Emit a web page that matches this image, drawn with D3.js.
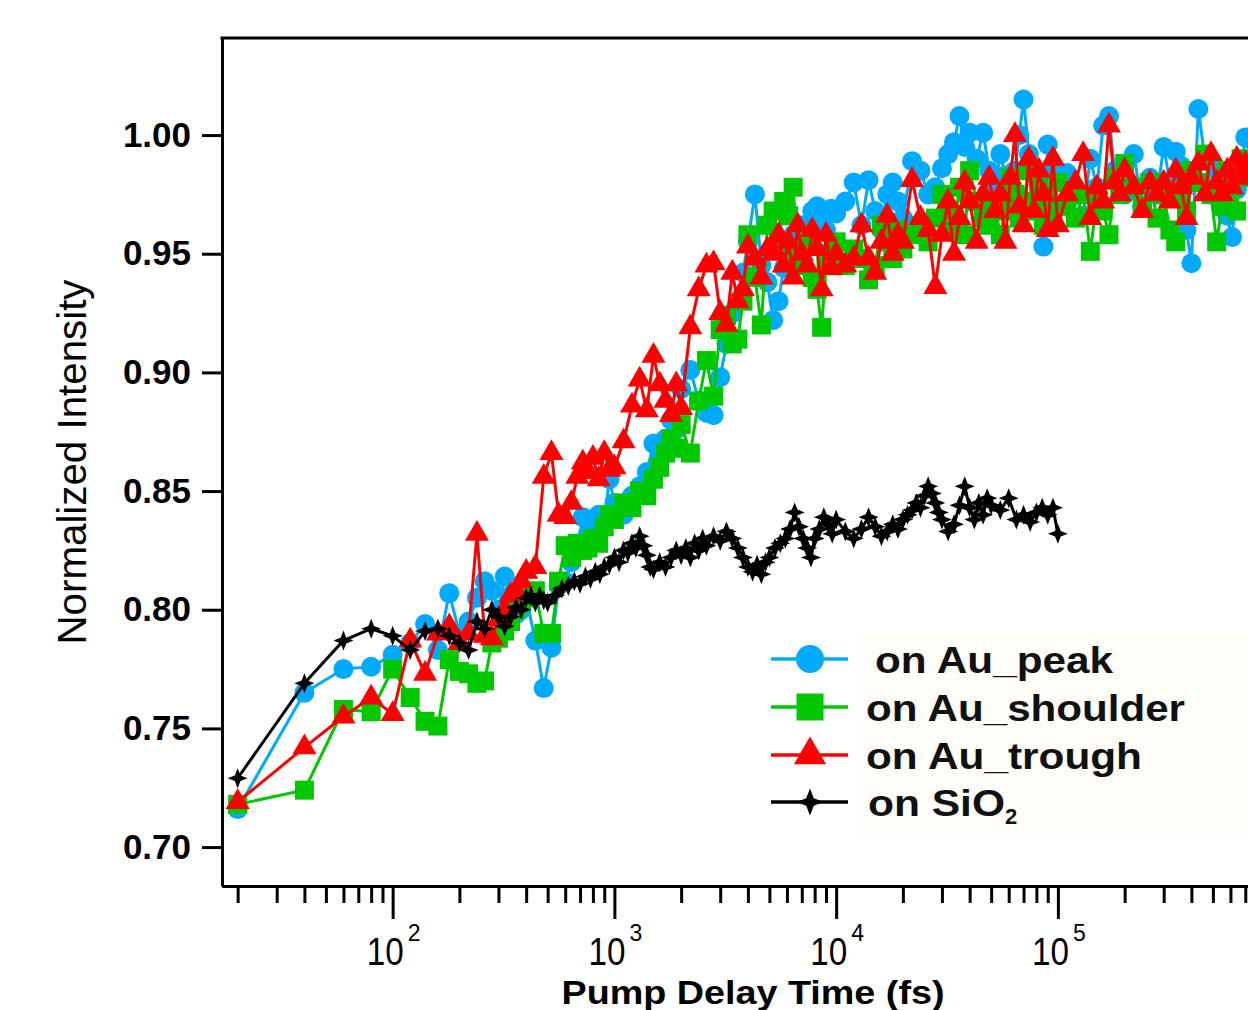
<!DOCTYPE html>
<html lang="en">
<head>
<meta charset="UTF-8">
<title>Normalized Intensity vs Pump Delay Time</title>
<style>
    body { margin: 0; background: #fff; }
    svg { display: block; }
    .axis path, .axis line { stroke: #000; stroke-width: 3px; }
    .axis text { fill: #000; font-family: "Liberation Sans", Arial, sans-serif; font-weight: bold; font-size: 35px; }
    .trace { fill: none; stroke-width: 3px; stroke-linejoin: round; }
    .narrow { font-family: "Liberation Sans Narrow", "Liberation Sans", Arial, sans-serif; }
    .legend text { font-family: "Liberation Sans", Arial, sans-serif; font-weight: bold; font-size: 37px; fill: #111; }
</style>
</head>
<body>
<div id="chart"></div>
<script src="https://cdn.jsdelivr.net/npm/d3@7"></script>
<script>
// shared delay grid of the three Au scans (fs)
var auTimes = [
    20, 40, 60, 80, 100, 120, 140, 160, 180, 200,
    220, 240, 260, 280, 300, 320, 340, 360, 380, 400,
    440, 480, 520, 560, 600, 640, 680, 720, 760, 800,
    850, 900, 950, 1000, 1100, 1200, 1300, 1400, 1500, 1600,
    1700, 1800, 1900, 2000, 2200, 2400, 2600, 2800, 3000, 3200,
    3400, 3600, 3800, 4000, 4300, 4600, 4900, 5200, 5500, 5800,
    6100, 6400, 6700, 7000, 7400, 7800, 8200, 8600, 9000, 9500,
    10000, 11000, 12000, 13000, 14000, 15000, 16000, 17000, 18000, 19000,
    20000, 22000, 24000, 26000, 28000, 30000, 32000, 34000, 36000, 38000,
    40000, 43000, 46000, 49000, 52000, 55000, 58000, 61000, 64000, 67000,
    70000, 74000, 78000, 82000, 86000, 90000, 95000, 100000, 110000, 120000,
    130000, 140000, 150000, 160000, 170000, 180000, 190000, 200000, 220000, 240000,
    260000, 280000, 300000, 320000, 340000, 360000, 380000, 400000, 430000, 460000,
    490000, 520000, 550000, 580000, 610000, 640000, 670000, 700000, 750000
];

var peakValues = [
    0.716, 0.765, 0.775, 0.776, 0.781, 0.786, 0.794, 0.783, 0.807, 0.790,
    0.795, 0.805, 0.812, 0.808, 0.800, 0.814, 0.806, 0.798, 0.800, 0.805,
    0.787, 0.767, 0.784, 0.810, 0.812, 0.820, 0.825, 0.839, 0.832, 0.836,
    0.840, 0.838, 0.855, 0.845, 0.840, 0.848, 0.852, 0.858, 0.870, 0.866,
    0.872, 0.880, 0.876, 0.893, 0.901, 0.888, 0.883, 0.882, 0.898, 0.912,
    0.925, 0.930, 0.942, 0.955, 0.975, 0.945, 0.938, 0.922, 0.930, 0.944,
    0.952, 0.958, 0.948, 0.962, 0.955, 0.968, 0.970, 0.965, 0.960, 0.969,
    0.967, 0.972, 0.980, 0.962, 0.981, 0.968, 0.960, 0.975, 0.980, 0.972,
    0.965, 0.989, 0.985, 0.975, 0.978, 0.986, 0.992, 0.997, 1.008, 0.995,
    1.001, 0.990, 1.001, 0.985, 0.978, 0.992, 0.983, 0.975, 0.985, 1.000,
    1.015, 0.992, 0.985, 0.980, 0.953, 0.996, 0.985, 0.970, 0.984, 0.975,
    0.966, 0.990, 0.978, 1.004, 1.008, 0.985, 0.978, 0.975, 0.992, 0.970,
    0.982, 0.975, 0.995, 0.980, 0.993, 0.987, 0.960, 0.946, 1.011, 0.990,
    0.975, 0.985, 0.970, 0.966, 0.957, 0.977, 0.985, 0.999, 0.998
];

var shoulderValues = [
    0.718, 0.724, 0.758, 0.757, 0.775, 0.763, 0.753, 0.751, 0.779, 0.774,
    0.773, 0.769, 0.770, 0.786, 0.788, 0.791, 0.795, 0.800, 0.803, 0.805,
    0.808, 0.790, 0.790, 0.812, 0.827, 0.822, 0.828, 0.825, 0.826, 0.830,
    0.828, 0.835, 0.840, 0.838, 0.845, 0.843, 0.850, 0.848, 0.855, 0.860,
    0.866, 0.872, 0.868, 0.878, 0.866, 0.888, 0.905, 0.890, 0.918, 0.924,
    0.912, 0.914, 0.930, 0.958, 0.940, 0.920, 0.962, 0.968, 0.955, 0.972,
    0.966, 0.978, 0.950, 0.945, 0.955, 0.940, 0.935, 0.919, 0.945, 0.950,
    0.955, 0.945, 0.952, 0.948, 0.939, 0.945, 0.962, 0.955, 0.948, 0.960,
    0.952, 0.958, 0.962, 0.955, 0.965, 0.975, 0.968, 0.960, 0.978, 0.958,
    0.985, 0.972, 0.965, 0.962, 0.970, 0.958, 0.968, 0.982, 0.975, 0.965,
    0.972, 0.985, 0.968, 0.978, 0.962, 0.975, 0.968, 0.980, 0.970, 0.965,
    0.975, 0.951, 0.972, 0.968, 0.958, 0.982, 0.975, 0.988, 0.978, 0.970,
    0.980, 0.965, 0.975, 0.960, 0.955, 0.975, 0.968, 0.985, 0.980, 0.992,
    0.975, 0.955, 0.970, 0.985, 0.978, 0.968, 0.990, 0.985, 0.982
];

var troughValues = [
    0.719, 0.742, 0.755, 0.763, 0.756, 0.787, 0.773, 0.790, 0.793, 0.786,
    0.790, 0.832, 0.789, 0.788, 0.796, 0.800, 0.806, 0.808, 0.812, 0.816,
    0.818, 0.856, 0.866, 0.840, 0.839, 0.845, 0.856, 0.862, 0.858, 0.864,
    0.855, 0.866, 0.859, 0.860, 0.871, 0.886, 0.897, 0.884, 0.907, 0.895,
    0.888, 0.882, 0.895, 0.885, 0.919, 0.935, 0.945, 0.946, 0.925, 0.920,
    0.942, 0.930, 0.935, 0.953, 0.948, 0.940, 0.952, 0.950, 0.958, 0.945,
    0.955, 0.940, 0.962, 0.950, 0.945, 0.960, 0.952, 0.935, 0.958, 0.944,
    0.950, 0.945, 0.948, 0.962, 0.948, 0.942, 0.955, 0.966, 0.950, 0.958,
    0.955, 0.981, 0.965, 0.960, 0.936, 0.958, 0.972, 0.950, 0.965, 0.980,
    0.972, 0.955, 0.975, 0.982, 0.968, 0.975, 0.955, 0.982, 1.000, 0.970,
    0.962, 0.990, 0.968, 0.985, 0.975, 0.960, 0.990, 0.962, 0.975, 0.980,
    0.992, 0.965, 0.978, 0.972, 1.004, 0.980, 0.975, 0.985, 0.978, 0.968,
    0.980, 0.975, 0.980, 0.972, 0.985, 0.978, 0.965, 0.982, 0.988, 0.975,
    0.992, 0.980, 0.975, 0.985, 0.978, 0.990, 0.982, 0.988, 0.985
];

// SiO2 reference scan, stops at 1e5 fs
var sio2Times = [
    20, 40, 60, 80, 100, 120, 140, 160, 180, 200,
    220, 240, 260, 280, 300, 320, 340, 360, 380, 400,
    420, 440, 460, 480, 500, 540, 580, 620, 660, 700,
    740, 780, 820, 860, 900, 950, 1000, 1050, 1100, 1150,
    1200, 1250, 1300, 1350, 1400, 1450, 1500, 1600, 1700, 1800,
    1900, 2000, 2100, 2200, 2300, 2400, 2500, 2600, 2800, 3000,
    3200, 3400, 3600, 3800, 4000, 4200, 4400, 4600, 4800, 5000,
    5300, 5600, 5900, 6200, 6500, 6800, 7100, 7400, 7700, 8000,
    8400, 8800, 9200, 9600, 10000, 11000, 12000, 13000, 14000, 15000,
    16000, 17000, 18000, 19000, 20000, 21000, 22000, 23000, 24000, 25000,
    26000, 27000, 28000, 29000, 30000, 32000, 34000, 36000, 38000, 40000,
    42000, 44000, 46000, 48000, 50000, 55000, 60000, 65000, 70000, 75000,
    80000, 85000, 90000, 95000, 100000
];

var sio2Values = [
    0.729, 0.769, 0.787, 0.792, 0.789, 0.783, 0.791, 0.792, 0.789, 0.786,
    0.783, 0.795, 0.792, 0.800, 0.797, 0.793, 0.797, 0.801, 0.800, 0.805,
    0.806, 0.803, 0.806, 0.804, 0.803, 0.806, 0.809, 0.810, 0.812, 0.811,
    0.814, 0.813, 0.816, 0.815, 0.818, 0.819, 0.822, 0.820, 0.825, 0.824,
    0.828, 0.826, 0.831, 0.827, 0.823, 0.818, 0.817, 0.820, 0.818, 0.822,
    0.825, 0.823, 0.826, 0.822, 0.828, 0.825, 0.830, 0.827, 0.831, 0.829,
    0.833, 0.830, 0.826, 0.822, 0.818, 0.816, 0.819, 0.815, 0.820, 0.822,
    0.826, 0.828, 0.830, 0.834, 0.841, 0.835, 0.830, 0.826, 0.822, 0.830,
    0.834, 0.839, 0.836, 0.832, 0.838, 0.833, 0.830, 0.834, 0.839, 0.835,
    0.831, 0.833, 0.836, 0.834, 0.838, 0.840, 0.842, 0.845, 0.843, 0.848,
    0.852, 0.849, 0.845, 0.841, 0.838, 0.833, 0.836, 0.844, 0.852, 0.843,
    0.838, 0.845, 0.840, 0.847, 0.844, 0.842, 0.847, 0.838, 0.840, 0.837,
    0.841, 0.843, 0.840, 0.843, 0.832
];

var legendLabels = [" on Au_peak", "on Au_shoulder", "on Au_trough", "on SiO"];
var yTicks = [0.70, 0.75, 0.80, 0.85, 0.90, 0.95, 1.00];
var xMajorTicks = [100, 1000, 10000, 100000];
var xTickExponents = ["2", "3", "4", "5"];

var width = 1248, height = 1010;

var x = d3.scaleLog().domain([17, 720000]).range([222, 1248]),
    y = d3.scaleLinear().domain([0.6836, 1.0409]).range([886, 38]);

// marker shapes, s = overall width in px
function star4(s) {
    var ro = s / 2, ri = s * 0.2, pts = [];
    for (var i = 0; i < 8; i++) {
        var a = -Math.PI / 2 + i * Math.PI / 4, r = i % 2 ? ri : ro;
        pts.push([r * Math.cos(a), r * Math.sin(a)]);
    }
    return "M" + pts.join("L") + "Z";
}
var shapes = {
    circle: function (s) { return d3.symbol(d3.symbolCircle, Math.PI * s * s / 4)(); },
    square: function (s) { return d3.symbol(d3.symbolSquare, s * s)(); },
    triangle: function (s) { return d3.symbol(d3.symbolTriangle, Math.sqrt(3) / 4 * s * s)(); },
    star: star4
};

var series = [
    {name: legendLabels[0], color: "#00aaff", shape: "circle", size: 20, legendSize: 28,
        data: auTimes.map(function (t, i) { return [t, peakValues[i]]; })},
    {name: legendLabels[1], color: "#00c800", shape: "square", size: 19, legendSize: 27,
        data: auTimes.map(function (t, i) { return [t, shoulderValues[i]]; })},
    {name: legendLabels[2], color: "#ff0000", shape: "triangle", size: 24, legendSize: 32,
        data: auTimes.map(function (t, i) { return [t, troughValues[i]]; })},
    {name: legendLabels[3], color: "#000000", shape: "star", size: 20, legendSize: 27,
        data: sio2Times.map(function (t, i) { return [t, sio2Values[i]]; })}
];

var svg = d3.select("#chart").append("svg")
    .attr("width", width)
    .attr("height", height);

// data traces
var line = d3.line()
    .x(function (d) { return x(d[0]); })
    .y(function (d) { return y(d[1]); });

var g = svg.selectAll(".series")
    .data(series)
    .enter().append("g")
    .attr("class", "series");

g.append("path")
    .attr("class", "trace")
    .attr("stroke", function (d) { return d.color; })
    .attr("d", function (d) { return line(d.data); });

g.each(function (s) {
    d3.select(this).selectAll(".pt")
        .data(s.data)
        .enter().append("path")
        .attr("class", "pt")
        .attr("fill", s.color)
        .attr("transform", function (d) { return "translate(" + x(d[0]) + "," + y(d[1]) + ")"; })
        .attr("d", shapes[s.shape](s.size));
});

// axes
var minorTicks = x.ticks().filter(function (t) {
    return xMajorTicks.indexOf(t) < 0 && t >= x.domain()[0] && t <= x.domain()[1];
});

svg.append("g")
    .attr("class", "axis")
    .attr("transform", "translate(0," + y.range()[0] + ")")
    .call(d3.axisBottom(x).tickValues(minorTicks).tickSize(17).tickSizeOuter(0).tickFormat(""));

svg.append("g")
    .attr("class", "axis")
    .attr("transform", "translate(0," + y.range()[0] + ")")
    .call(d3.axisBottom(x).tickValues(xMajorTicks).tickSize(33).tickSizeOuter(0).tickFormat(""));

svg.append("g")
    .attr("class", "axis")
    .attr("transform", "translate(" + x.range()[0] + ",0)")
    .call(d3.axisLeft(y).tickValues(yTicks).tickSize(20).tickPadding(11)
        .tickSizeOuter(0).tickFormat(d3.format(".2f")));

svg.append("line")
    .attr("x1", x.range()[0] - 1.5).attr("x2", width)
    .attr("y1", y.range()[1]).attr("y2", y.range()[1])
    .attr("stroke", "#000").attr("stroke-width", 3);

// decade labels 10^n : mantissa and exponent as separate texts
var xl = svg.selectAll(".xlab")
    .data(xMajorTicks)
    .enter().append("g")
    .attr("class", "xlab narrow")
    .attr("transform", function (d) { return "translate(" + x(d) + ",0)"; });
xl.append("text")
    .attr("x", -26).attr("y", 965)
    .attr("textLength", 37).attr("lengthAdjust", "spacingAndGlyphs")
    .style("font-size", "38px")
    .text("10");
xl.append("text")
    .attr("x", 15).attr("y", 941)
    .style("font-size", "23px")
    .text(function (d, i) { return xTickExponents[i]; });

// axis titles
svg.append("text")
    .attr("class", "narrow")
    .attr("x", 753).attr("y", 1004)
    .attr("text-anchor", "middle")
    .attr("textLength", 383).attr("lengthAdjust", "spacingAndGlyphs")
    .style("font-size", "34px").style("font-weight", "bold")
    .text("Pump Delay Time (fs)");

svg.append("text")
    .attr("class", "narrow")
    .attr("transform", "translate(86,462) rotate(-90)")
    .attr("text-anchor", "middle")
    .attr("textLength", 365).attr("lengthAdjust", "spacingAndGlyphs")
    .style("font-size", "40px")
    .text("Normalized Intensity");

// legend
var legend = svg.append("g").attr("class", "legend");
legend.append("rect")
    .attr("x", 860).attr("y", 632)
    .attr("width", 400).attr("height", 203)
    .attr("fill", "#fefdf8");

var rowY = [659, 707, 755, 802],
    textX = [875, 866, 866, 868],
    textW = [238, 319, 276, 137];

var item = legend.selectAll(".item")
    .data(series)
    .enter().append("g")
    .attr("class", "item")
    .attr("transform", function (d, i) { return "translate(0," + rowY[i] + ")"; });

item.append("line")
    .attr("x1", 771).attr("x2", 848)
    .attr("stroke", function (d) { return d.color; })
    .attr("stroke-width", 3.5);

item.append("path")
    .attr("transform", "translate(810,0)")
    .attr("fill", function (d) { return d.color; })
    .attr("d", function (d) { return shapes[d.shape](d.legendSize); });

item.append("text")
    .attr("x", function (d, i) { return textX[i]; })
    .attr("y", 14)
    .each(function (d, i) {
        var t = d3.select(this);
        t.append("tspan")
            .attr("textLength", textW[i]).attr("lengthAdjust", "spacingAndGlyphs")
            .text(d.name.trim());
        if (i === 3) {
            t.append("tspan").attr("dy", 8).style("font-size", "22px").text("2");
        }
    });
</script>
</body>
</html>
